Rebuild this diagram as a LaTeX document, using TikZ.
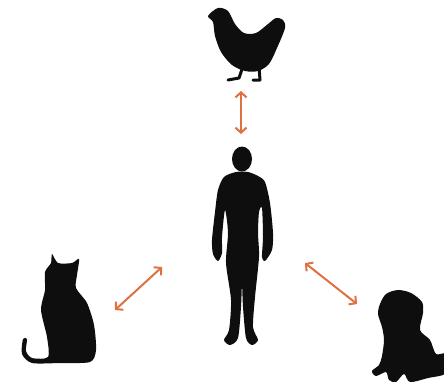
\documentclass[tikz,border=0pt]{standalone}
\usepackage{tikz}
\usetikzlibrary{arrows.meta}
\definecolor{LinkOrange}{RGB}{222,112,66}
\definecolor{ShapeBlack}{RGB}{14,14,14}
\tikzset{
  silhouette/.style={fill=ShapeBlack,draw=none},
  limb/.style={draw=ShapeBlack,line width=3pt,line cap=round,line join=round},
  relation/.style={{Straight Barb[length=5pt,width=11pt]}-{Straight Barb[length=5pt,width=11pt]},LinkOrange,line width=2pt}
}
\begin{document}
\begin{tikzpicture}[x=1pt,y=-1pt]
  \useasboundingbox (0,0) rectangle (444,384);
  % hen
  \fill[silhouette] plot[smooth cycle,tension=0.5] coordinates {(218,8) (208,16) (213,22) (215,36) (221,52) (232,65) (245,71) (258,71) (269,64) (277,48) (285,28) (283,20) (276,18) (268,24) (256,33) (244,33) (235,24) (228,11)};
  \draw[limb] (243,66) -- (239,78) -- (228,80);
  \draw[limb] (259,66) -- (260,80) -- (253,80);
  % man
  \fill[silhouette] (242,159) ellipse [x radius=10,y radius=12.5];
  \fill[silhouette] plot[smooth cycle,tension=0.45] coordinates {(236,172) (224,177) (218,190) (215,212) (212,240) (213,254) (218,261) (222,253) (222,237) (225,210) (228,233) (226,263) (231,300) (229,330) (224,340) (230,345) (238,338) (241,307) (242,285) (243,307) (246,338) (252,345) (258,340) (253,327) (255,297) (259,257) (258,233) (259,212) (262,208) (263,237) (262,257) (265,261) (272,250) (273,233) (270,203) (265,182) (258,176) (248,172)};
  % cat
  \fill[silhouette] plot[smooth cycle,tension=0.45] coordinates {(52,254) (58,263) (72,263) (79,259) (77,275) (76,288) (87,303) (94,325) (96,350) (90,362) (60,363) (32,363) (22,354) (23,339) (27,339) (26,351) (32,358) (48,357) (47,337) (41,310) (45,290) (45,272) (51,263)};
  % dog
  \fill[silhouette] plot[smooth cycle,tension=0.5] coordinates {(398,290) (386,294) (380,304) (378,314) (382,327) (384,340) (382,356) (379,365) (372,371) (376,376) (386,372) (389,380) (396,382) (404,374) (410,382) (428,378) (446,373) (446,354) (436,354) (430,340) (420,330) (423,313) (422,302) (411,293)};
  % links
  \coordinate (henlink) at (241,91);
  \coordinate (manhen) at (241,134);
  \coordinate (catlink) at (115,310);
  \coordinate (mancat) at (162,267);
  \coordinate (manhound) at (305,263);
  \coordinate (doglink) at (357,304);
  \draw[relation] (henlink) -- (manhen);
  \draw[relation] (catlink) -- (mancat);
  \draw[relation] (manhound) -- (doglink);
\end{tikzpicture}
\end{document}
